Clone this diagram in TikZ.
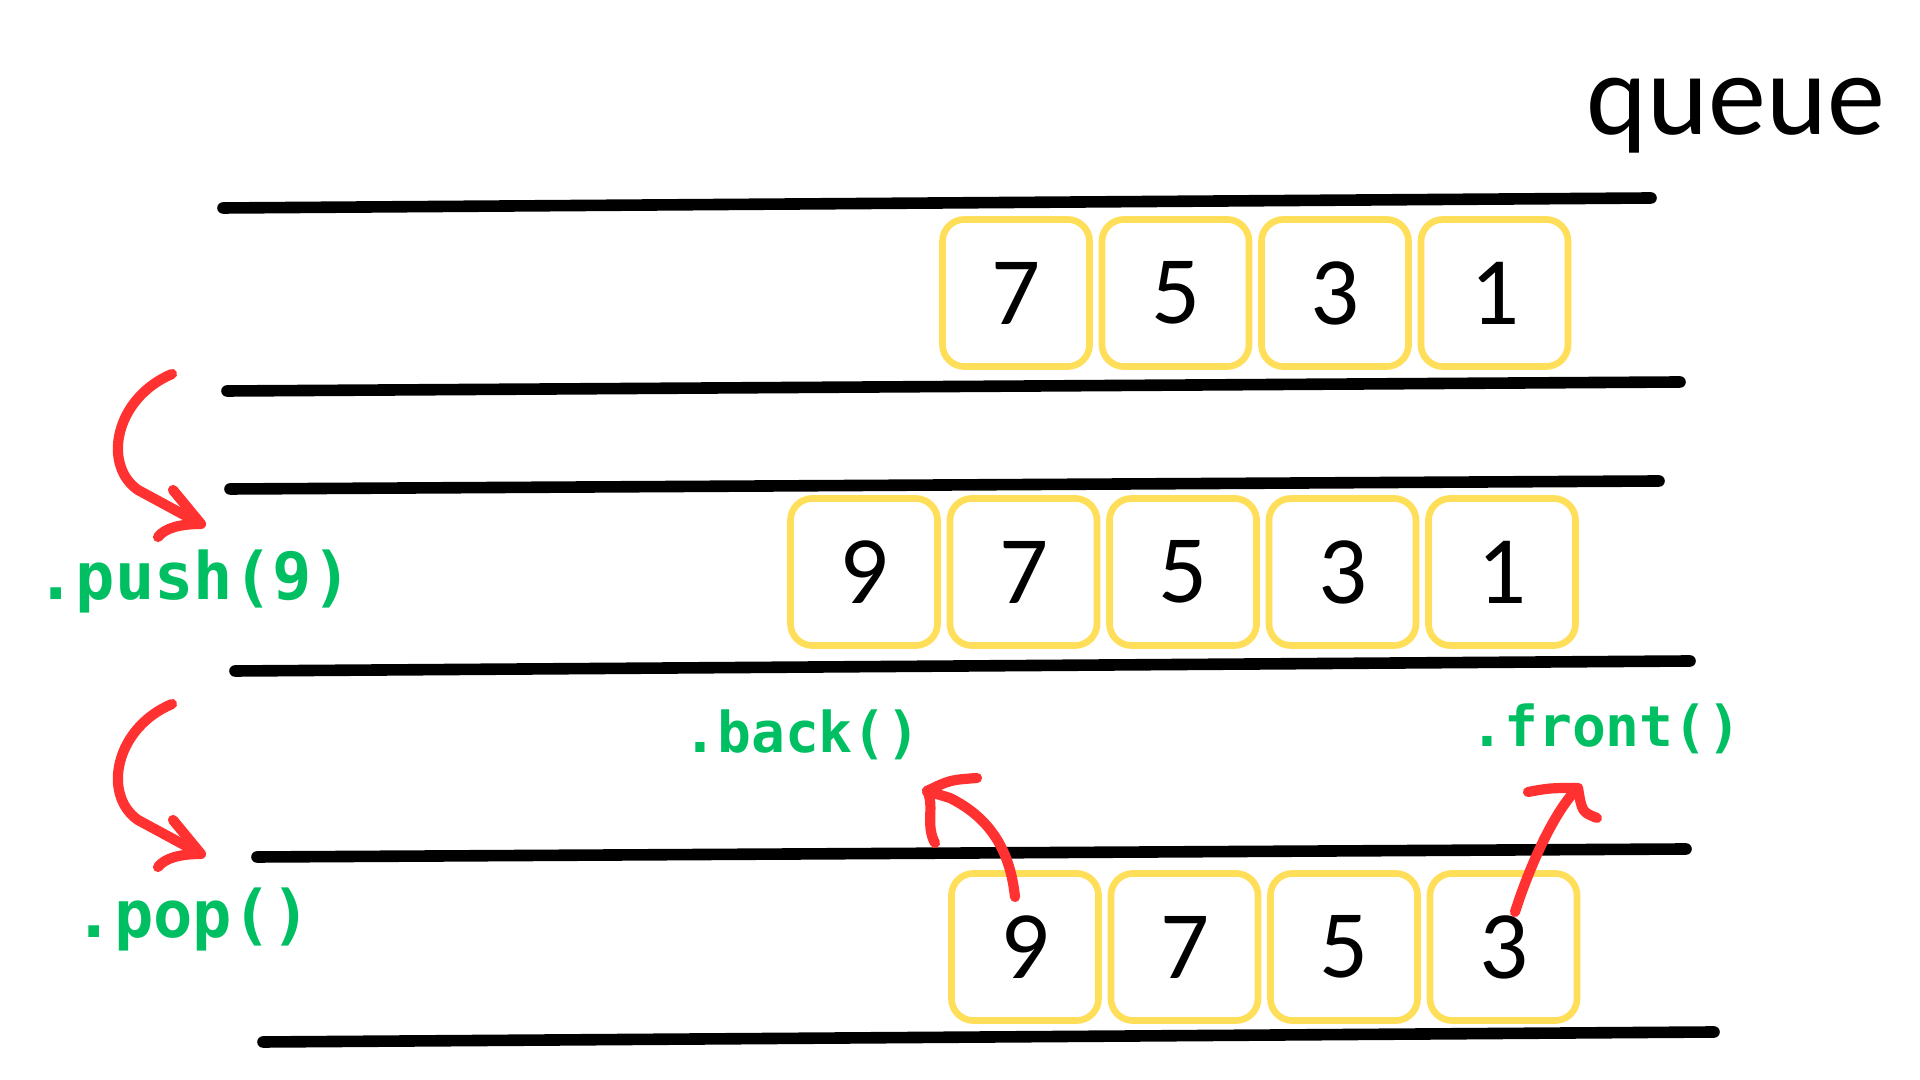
\documentclass[tikz,border=0pt]{standalone}
\usepackage{fontspec}
\setmainfont{Carlito}
\newfontfamily\codefont{DejaVu Sans Mono}
\usetikzlibrary{math}
\definecolor{boxyellow}{HTML}{FFDE59}
\definecolor{penred}{HTML}{FF3131}
\definecolor{codegreen}{HTML}{00BF63}

\tikzset{
  cell/.style={draw=boxyellow, line width=1.9pt, rounded corners=0.22cm,
    minimum width=1.47cm, minimum height=1.47cm, inner sep=0pt,
    font=\fontsize{27.5}{30}\selectfont},
  wall/.style={line width=3.3pt, line cap=round},
  pen/.style={penred, line width=2.9pt, line cap=round, line join=round},
  code/.style={codegreen, anchor=base, font=\codefont\bfseries\fontsize{18.6}{20}\selectfont},
  smallcode/.style={code, font=\codefont\bfseries\fontsize{16}{18}\selectfont},
}

\begin{document}
\begin{tikzpicture}[x=0.01cm, y=-0.01cm]
\tikzmath{
\pitch=159.5;
\dy=330;
}
\useasboundingbox (0,0) rectangle (1920,1080);

\node[anchor=base, font=\fontsize{33}{36}\selectfont] (title) at (1736,135) {queue};

% the three queues
\draw[wall] (223,208) -- (1651,198);
\draw[wall] (227,391) -- (1680,382);
\draw[wall] (230,489) -- (1659,481);
\draw[wall] (235,671) -- (1690,661);
\draw[wall] (257,857) -- (1686,849);
\draw[wall] (263,1042) -- (1714,1032);

\foreach \v [count=\i] in {7,5,3,1}
  \node[cell] (a\i) at ({1016+\pitch*(\i-1)},293) {\v};
\foreach \v [count=\i] in {9,7,5,3,1}
  \node[cell] (b\i) at ({864+\pitch*(\i-1)},572) {\v};
\foreach \v [count=\i] in {9,7,5,3}
  \node[cell] (c\i) at ({1025+\pitch*(\i-1)},947) {\v};

\node[code] (push) at (194,600) {.push(9)};
\node[code] (pop) at (193,938) {.pop()};
\node[smallcode] (back) at (802,753) {.back()};
\node[smallcode] (front) at (1606,747) {.front()};

% operations
\foreach \s in {0,\dy} {
  \draw[pen] (172,{374+\s}) .. controls (115,{398+\s}) and (102,{465+\s}) .. (138,{490+\s})
    -- (199,{523+\s});
  \draw[pen] (173,{490+\s}) -- (201,{524+\s})
    .. controls (180,{524+\s}) and (165,{528+\s}) .. (158,{537+\s});
}

\coordinate (backtail) at (1015,897);
\coordinate (backtip) at (927,791);
\draw[pen] (backtail) .. controls (1010,850) and (990,818) .. (950,798) -- (backtip);
\draw[pen] (977,778) .. controls (950,780) .. (backtip)
  .. controls (935,805) and (925,825) .. (935,843);

\coordinate (fronttail) at (1515,912);
\coordinate (fronttip) at (1578,788);
\draw[pen] (fronttail) .. controls (1530,865) and (1555,810) .. (fronttip);
\draw[pen] (1528,792) .. controls (1550,788) .. (fronttip)
  .. controls (1582,812) .. (1597,818);
\end{tikzpicture}
\end{document}
